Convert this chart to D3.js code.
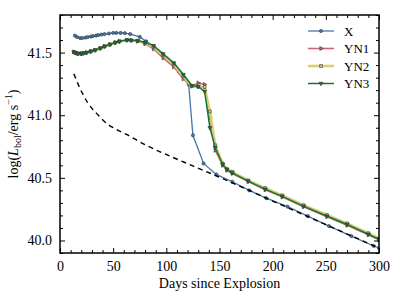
<!DOCTYPE html>
<html>
<head>
<meta charset="utf-8">
<script src="https://cdn.jsdelivr.net/npm/d3@7"></script>
<style>
  body { margin: 0; background: #fff; }
  svg text { font-family: "Liberation Serif", "Times New Roman", serif !important; fill: #000; }
</style>
</head>
<body>
<script>
// series data (days since explosion, log L)
var xDays = [14,16,19,21,24,26,29,31,34,36,39,42,46,50,53,57,61,66,75,81,88,96,104,112,121,125,135,147,162,178,194,214,233,253,274,295,300];
var xVals = [41.636,41.624,41.616,41.616,41.62,41.624,41.628,41.632,41.636,41.64,41.644,41.648,41.652,41.657,41.657,41.657,41.655,41.648,41.625,41.59,41.55,41.49,41.425,41.345,41.245,40.84,40.615,40.527,40.469,40.40,40.338,40.27,40.195,40.115,40.035,39.956,39.94];

var ynDays = [13,15,17,20,22,25,29,33,38,42,47,52,56,63,67,73,80,88,97,107,116,124,130,136,141,146,153,157,162,177,193,209,229,251,270,290,300];
var yn1Vals = [41.505,41.497,41.492,41.492,41.495,41.50,41.51,41.52,41.535,41.55,41.565,41.58,41.59,41.60,41.598,41.59,41.57,41.53,41.457,41.386,41.29,41.232,41.258,41.245,40.98,40.72,40.60,40.56,40.535,40.47,40.405,40.348,40.27,40.19,40.122,40.045,40.005];
var yn2Vals = [41.505,41.497,41.492,41.492,41.495,41.50,41.51,41.52,41.535,41.55,41.565,41.58,41.59,41.60,41.598,41.594,41.578,41.545,41.478,41.405,41.31,41.232,41.228,41.225,41.03,40.76,40.615,40.57,40.548,40.48,40.418,40.36,40.282,40.203,40.136,40.058,40.016];
var yn3Vals = [41.505,41.497,41.492,41.492,41.495,41.50,41.51,41.52,41.535,41.55,41.565,41.58,41.59,41.60,41.598,41.595,41.582,41.556,41.49,41.418,41.325,41.237,41.228,41.19,40.90,40.74,40.607,40.567,40.54,40.474,40.41,40.352,40.274,40.195,40.128,40.05,40.01];

var dashDays = [13,16,19,22,26,31,36,41,50,63,81,103,125,144,150,200,250,300];
var dashVals = [41.33,41.27,41.21,41.16,41.10,41.045,41.0,40.955,40.90,40.845,40.76,40.675,40.595,40.527,40.505,40.315,40.127,39.94];

var seriesNames = ["X","YN1","YN2","YN3"];
var seriesColors = ["#4477AA","#CC6677","#DDCC77","#117733"];

var xTicks = [0,50,100,150,200,250,300];
var yTicks = [40.0,40.5,41.0,41.5];

var W = 399, H = 299;
var margin = {left: 60, top: 15, right: 20, bottom: 46};
var w = W - margin.left - margin.right, h = H - margin.top - margin.bottom;

var svg = d3.select("body").append("svg")
    .attr("width", W)
    .attr("height", H);

var g = svg.append("g")
    .attr("transform", "translate(" + margin.left + "," + margin.top + ")");

var x = d3.scaleLinear().domain([0, 300]).range([0, w]);
var y = d3.scaleLinear().domain([39.9, 41.8]).range([h, 0]);

var line = d3.line()
    .x(function(d){ return x(d[0]); })
    .y(function(d){ return y(d[1]); });

function pairs(days, vals){
    return days.map(function(d, i){ return [d, vals[i]]; });
}

var series = [
    {name: "X", data: pairs(xDays, xVals), color: seriesColors[0], width: 1.3, marker: "circle"},
    {name: "YN1", data: pairs(ynDays, yn1Vals), color: seriesColors[1], width: 1.6, marker: "triRight"},
    {name: "YN2", data: pairs(ynDays, yn2Vals), color: seriesColors[2], width: 2.6, marker: "square"},
    {name: "YN3", data: pairs(ynDays, yn3Vals), color: seriesColors[3], width: 1.5, marker: "triDown"}
];

var symbolFor = {
    circle: d3.symbol().type(d3.symbolCircle).size(8),
    square: d3.symbol().type(d3.symbolSquare).size(8),
    triRight: d3.symbol().type(d3.symbolTriangle).size(7),
    triDown: d3.symbol().type(d3.symbolTriangle).size(7)
};
var rotFor = {circle: 0, square: 0, triRight: 90, triDown: 180};

var clip = g.append("clipPath").attr("id", "clip")
    .append("rect").attr("width", w).attr("height", h);
var plot = g.append("g").attr("clip-path", "url(#clip)");

function drawSeries(s){
    plot.append("path")
        .datum(s.data)
        .attr("d", line)
        .attr("fill", "none")
        .attr("stroke", s.color)
        .attr("stroke-width", s.width);
    plot.selectAll(null)
        .data(s.data)
        .enter()
        .append("path")
        .attr("d", symbolFor[s.marker])
        .attr("transform", function(d){ return "translate(" + x(d[0]) + "," + y(d[1]) + ") rotate(" + rotFor[s.marker] + ")"; })
        .attr("fill", s.color)
        .attr("stroke", "#333")
        .attr("stroke-width", 0.6);
}

// blue first, then the dashed model line, then the YN runs
drawSeries(series[0]);
plot.append("path")
    .datum(pairs(dashDays, dashVals))
    .attr("d", line.curve(d3.curveMonotoneX))
    .attr("fill", "none")
    .attr("stroke", "#000")
    .attr("stroke-width", 1.4)
    .attr("stroke-dasharray", "5,4");
line.curve(d3.curveLinear);
drawSeries(series[1]);
drawSeries(series[2]);
drawSeries(series[3]);

// axes, ticks inward on all four sides
function ax(axisFn, scale, major, minorStep, transform, showLabels, fmt){
    var lo = scale.domain()[0], hi = scale.domain()[1];
    var minor = d3.range(Math.ceil(lo / minorStep) * minorStep, hi + 1e-9, minorStep)
        .filter(function(v){ return !major.some(function(m){ return Math.abs(m - v) < 1e-6; }); });
    g.append("g").attr("transform", transform)
        .call(axisFn(scale).tickValues(minor).tickSize(-3).tickFormat(""))
        .call(function(s){ s.select(".domain").remove(); });
    var a = g.append("g").attr("transform", transform)
        .call(axisFn(scale).tickValues(major).tickSize(-5).tickPadding(8)
              .tickFormat(showLabels ? fmt : ""));
    a.attr("font-family", null);
    a.select(".domain").remove();
    a.selectAll("text").style("font-size", "14px");
    g.selectAll(".tick line").attr("stroke", "#000").attr("stroke-width", 1);
}
ax(d3.axisBottom, x, xTicks, 10, "translate(0," + h + ")", true, d3.format("d"));
ax(d3.axisTop, x, xTicks, 10, "translate(0,0)", false, null);
ax(d3.axisLeft, y, yTicks, 0.1, "translate(0,0)", true, d3.format(".1f"));
ax(d3.axisRight, y, yTicks, 0.1, "translate(" + w + ",0)", false, null);

g.append("rect")
    .attr("width", w).attr("height", h)
    .attr("fill", "none")
    .attr("stroke", "#000")
    .attr("stroke-width", 1.5);

// axis labels
svg.append("text")
    .attr("x", margin.left + w / 2)
    .attr("y", 288)
    .attr("text-anchor", "middle")
    .style("font-size", "14px")
    .text("Days since Explosion");

var yl = svg.append("text")
    .attr("transform", "translate(18," + (margin.top + h / 2) + ") rotate(-90)")
    .attr("text-anchor", "middle")
    .style("font-size", "14px");
yl.append("tspan").text("log(");
yl.append("tspan").attr("font-style", "italic").text("L");
yl.append("tspan").style("font-size", "10px").attr("dy", 3).text("bol");
yl.append("tspan").attr("dy", -3).text("/erg s");
yl.append("tspan").style("font-size", "10px").attr("dy", -6).text("\u22121");
yl.append("tspan").attr("dy", 6).text(")");

// legend
var leg = svg.append("g").attr("transform", "translate(308,31)");
series.forEach(function(s, i){
    var row = leg.append("g").attr("transform", "translate(0," + (i * 17.5) + ")");
    row.append("line")
        .attr("x1", 0).attr("x2", 26)
        .attr("stroke", s.color)
        .attr("stroke-width", s.width);
    row.append("path")
        .attr("d", symbolFor[s.marker])
        .attr("transform", "translate(13,0) rotate(" + rotFor[s.marker] + ")")
        .attr("fill", s.color)
        .attr("stroke", "#333")
        .attr("stroke-width", 0.6);
    row.append("text")
        .attr("x", 36)
        .attr("y", 4.5)
        .style("font-size", "13px")
        .text(s.name);
});
</script>
</body>
</html>
